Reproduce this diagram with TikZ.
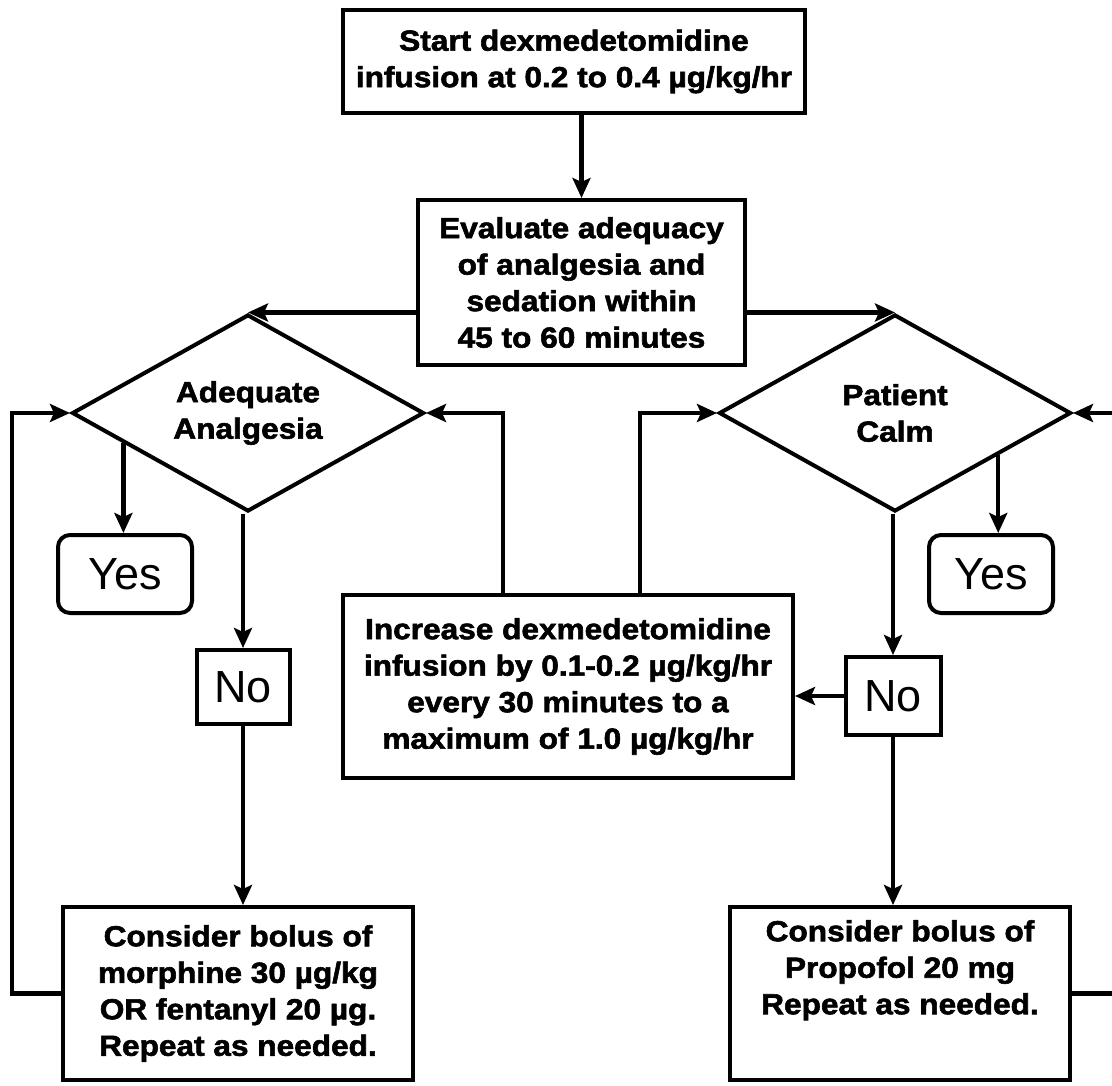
\documentclass[tikz,border=0pt]{standalone}
\usepackage{fontspec}
\setmainfont{Liberation Sans}[FakeStretch=1.09,BoldFeatures={FakeBold=2}]
\newfontfamily\plainfont{Liberation Sans}
\usetikzlibrary{arrows.meta,calc,shapes.geometric}
\begin{document}
\begin{tikzpicture}[x=1pt,y=-1pt,
  every node/.style={inner sep=0pt},
  boldtxt/.style={font=\bfseries\fontsize{29}{36.5}\selectfont,align=center},
  box/.style={draw,line width=4pt,boldtxt},
  dia/.style={diamond,draw,line width=4pt,aspect=1.8,boldtxt,minimum width=352pt,minimum height=197pt},
  ansbox/.style={draw,line width=4pt,font=\plainfont\fontsize{45}{50}\selectfont},
  arr/.style={line width=4.5pt,-{Stealth[length=20pt,width=18pt,inset=4pt]}},
  plainline/.style={line width=4.5pt}]
\useasboundingbox (0,0) rectangle (1112,1086);
\fill[white] (0,0) rectangle (1112,1086);

% boxes
\node[box,minimum width=462pt,minimum height=103pt] (start) at (574,61.5)
  {Start dexmedetomidine\\infusion at 0.2 to 0.4 µg/kg/hr};
\node[box,minimum width=327pt,minimum height=165pt] (eval) at (581.5,282.5)
  {Evaluate adequacy\\of analgesia and\\sedation within\\45 to 60 minutes};
\node[dia] (dL) at (248,413) {Adequate\\Analgesia};
\node[dia] (dR) at (895,413) {Patient\\Calm};
\node[ansbox,rounded corners=12pt,minimum width=134pt,minimum height=78pt] (yL) at (125,574) {Yes};
\node[ansbox,rounded corners=12pt,minimum width=124pt,minimum height=78pt] (yR) at (991,574) {Yes};
\node[ansbox,minimum width=93pt,minimum height=74pt] (nL) at (243,687) {No};
\node[ansbox,minimum width=95pt,minimum height=78pt] (nR) at (893,696) {No};
\node[box,minimum width=450pt,minimum height=183pt] (inc) at (568,686.5)
  {Increase dexmedetomidine\\infusion by 0.1-0.2 µg/kg/hr\\every 30 minutes to a\\maximum of 1.0 µg/kg/hr};
\node[box,minimum width=350pt,minimum height=173pt] (cL) at (238,993.5)
  {Consider bolus of\\morphine 30 µg/kg\\OR fentanyl 20 µg.\\Repeat as needed.};
\node[draw,line width=4pt,minimum width=340pt,minimum height=173pt] (cR) at (900,993.5) {};
\node[boldtxt,anchor=north] (cRt) at ([yshift=-15pt]cR.north)
  {Consider bolus of\\Propofol 20 mg\\Repeat as needed.};

% helper coordinates
\coordinate (pL) at ($(dL.west)!0.3!(dL.south)$);
\coordinate (pR) at ($(dR.east)!0.42!(dR.south)$);
\coordinate (u1) at (503,0);
\coordinate (u2) at (640,0);
\coordinate (lx) at (12,0);
\coordinate (rx) at (1120,0);

% connectors
\draw[arr] (eval.north |- start.south) -- (eval.north);
\draw[arr] (eval.west |- dL.north) -- (dL.north);
\draw[arr] (eval.east |- dR.north) -- (dR.north);
\draw[arr] (pL) -- (pL |- yL.north);
\draw[arr] (pR) -- (pR |- yR.north);
\draw[arr] (nL.north |- dL.south) -- (nL.north);
\draw[arr] (nR.north |- dR.south) -- (nR.north);
\draw[arr] (nL.south) -- (nL.south |- cL.north);
\draw[arr] (nR.south) -- (nR.south |- cR.north);
\draw[arr] (nR.west) -- (nR.west -| inc.east);
\draw[arr] (inc.north -| u1) |- (dL.east);
\draw[arr] (inc.north -| u2) |- (dR.west);
\draw[arr] (cL.west) -- (cL.west -| lx) |- (dL.west);
\draw[plainline] (cR.east) -- (cR.east -| rx);
\draw[arr] (dR.east -| rx) -- (dR.east);
\end{tikzpicture}
\end{document}
